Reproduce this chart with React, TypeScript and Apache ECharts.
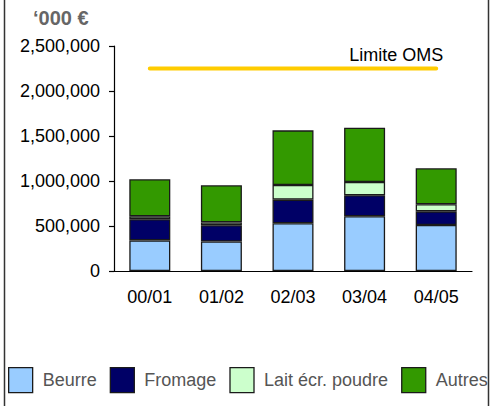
import React, { useEffect, useRef } from "react";
import * as echarts from "echarts";

const categories = ["00/01", "01/02", "02/03", "03/04", "04/05"];
const beurre = [340000, 327000, 530000, 608000, 511000];
const fromage = [235000, 181000, 263000, 233000, 152000];
const laitEcr = [32000, 32000, 163000, 148000, 78000];
const autres = [412000, 412000, 607000, 604000, 400000];
const limiteOMS = [2250000, 2250000, 2250000, 2250000, 2250000];
const yTicks = [0, 500000, 1000000, 1500000, 2000000, 2500000];

const FONT = "'Liberation Sans', Arial, sans-serif";

export default function App() {
  const ref = useRef<HTMLDivElement>(null);
  useEffect(() => {
    if (!ref.current) return;
    const chart = echarts.init(ref.current, null, { renderer: "svg" });
    const barStyle = (color: string) => ({
      color,
      borderColor: "#1a1a1a",
      borderWidth: 1.3,
    });
    const mk = (name: string, data: number[], color: string) => ({
      name,
      type: "bar",
      stack: "total",
      barWidth: 41,
      data,
      itemStyle: barStyle(color),
      emphasis: { disabled: true },
    });
    chart.setOption({
      animation: false,
      textStyle: { fontFamily: FONT },
      title: {
        text: "\u2018000 \u20ac",
        left: 28,
        top: 3,
        textStyle: { fontFamily: FONT, fontSize: 20, fontWeight: "bold", color: "#666666" },
      },
      grid: { left: 114, right: 18, top: 46, bottom: 135, containLabel: false },
      xAxis: {
        type: "category",
        data: categories,
        axisLine: { lineStyle: { color: "#000", width: 1.2 } },
        axisTick: { length: 6, lineStyle: { color: "#000", width: 1.2 } },
        axisLabel: { color: "#000", fontSize: 18, margin: 17, fontFamily: FONT },
      },
      yAxis: {
        type: "value",
        min: yTicks[0],
        max: yTicks[yTicks.length - 1],
        interval: yTicks[1] - yTicks[0],
        axisLine: { show: true, lineStyle: { color: "#000", width: 1.2 } },
        axisTick: { show: true, length: 5, lineStyle: { color: "#000", width: 1.2 } },
        splitLine: { show: false },
        axisLabel: {
          color: "#000",
          fontSize: 18,
          margin: 14,
          fontFamily: FONT,
          formatter: (v: number) => v.toLocaleString("en-US"),
        },
      },
      legend: {
        data: ["Beurre", "Fromage", "Lait écr. poudre", "Autres"],
        left: 8,
        top: 367,
        padding: 0,
        width: 800,
        itemWidth: 24,
        itemHeight: 25,
        itemGap: 13,
        icon: "rect",
        itemStyle: { borderColor: "#1a1a1a", borderWidth: 1.3 },
        textStyle: { color: "#555555", fontSize: 18, fontFamily: FONT, padding: [0, 0, 0, 5] },
      },
      series: [
        mk("Beurre", beurre, "#99CCFF"),
        mk("Fromage", fromage, "#000066"),
        mk("Lait écr. poudre", laitEcr, "#CCFFCC"),
        mk("Autres", autres, "#339900"),
        {
          name: "Limite OMS",
          type: "line",
          data: limiteOMS.map((v, i) =>
            i === limiteOMS.length - 1
              ? {
                  value: v,
                  label: {
                    show: true,
                    formatter: "Limite OMS",
                    position: "top",
                    align: "right",
                    offset: [7, 0],
                    distance: 5,
                    color: "#000",
                    fontSize: 18,
                    fontFamily: FONT,
                  },
                }
              : v
          ),
          symbol: "circle",
          symbolSize: 0,
          showSymbol: true,
          lineStyle: { color: "#FFCC00", width: 4, cap: "round" },
          itemStyle: { color: "#FFCC00" },
          emphasis: { disabled: true },
          z: 5,
        },
      ],
      graphic: [
        { type: "line", shape: { x1: 4.5, y1: 0, x2: 4.5, y2: 406 }, style: { stroke: "#333", lineWidth: 1.5 } },
        { type: "line", shape: { x1: 488.5, y1: 0, x2: 488.5, y2: 406 }, style: { stroke: "#333", lineWidth: 1.5 }, z: 100 },
      ],
    });
    return () => chart.dispose();
  }, []);
  return (
    <div
      ref={ref}
      style={{ position: "fixed", left: 0, top: 0, width: 490, height: 406, background: "#fff" }}
    />
  );
}
